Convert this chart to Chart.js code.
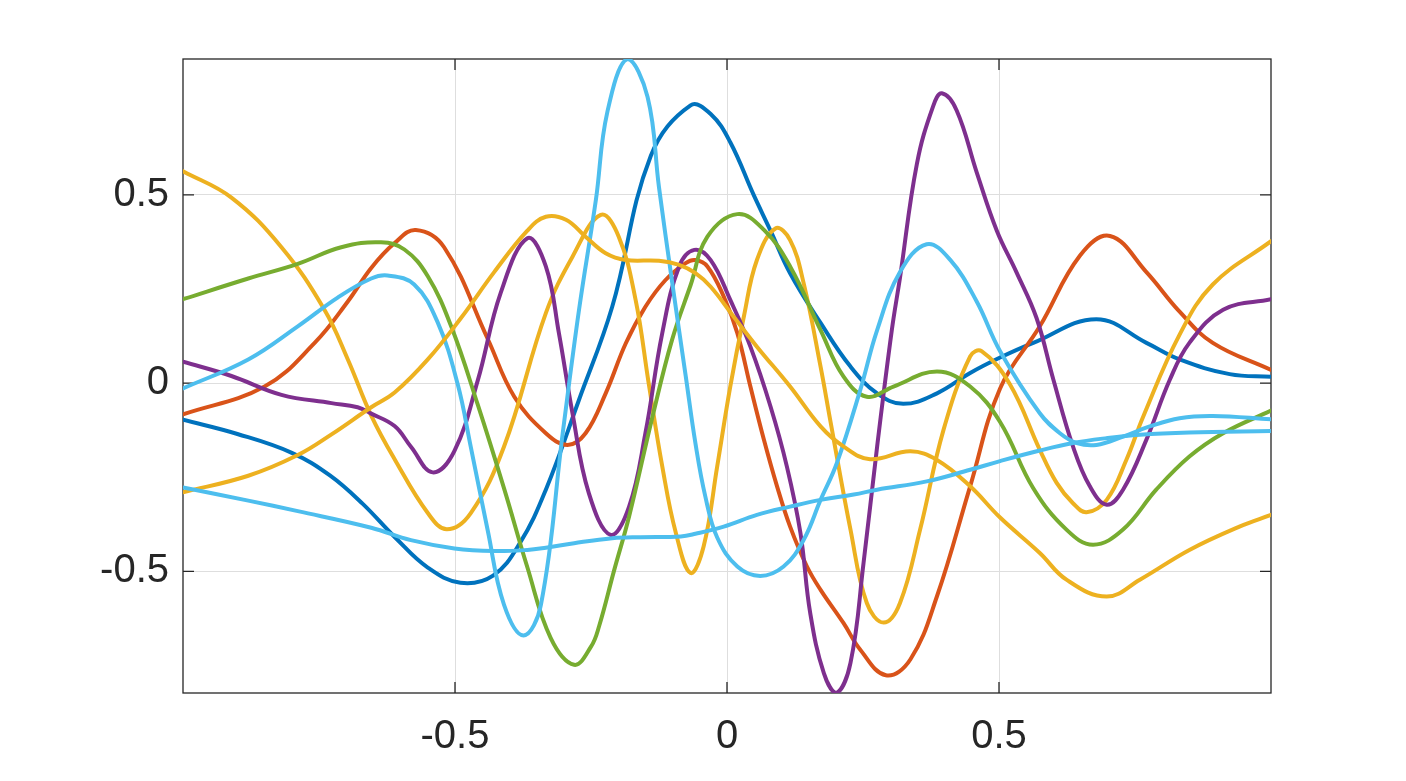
<!DOCTYPE html>
<html><head><meta charset="utf-8">
<script src="https://cdn.jsdelivr.net/npm/chart.js@4.4.1/dist/chart.umd.min.js"></script>
<style>html,body{margin:0;padding:0;background:#fff}#wrap{width:1406px;height:781px;position:relative}</style>
</head><body><div id="wrap"><canvas id="c"></canvas></div>
<script>
const xTicks = [-0.5, 0, 0.5];
const yTicks = [-0.5, 0, 0.5];

const blueX = [-1, -0.9, -0.8, -0.73, -0.67, -0.61, -0.55, -0.49, -0.43, -0.38, -0.333, -0.272, -0.211, -0.14, -0.067, -0.03, 0.006, 0.049, 0.08, 0.116, 0.172, 0.227, 0.276, 0.324, 0.386, 0.447, 0.502, 0.563, 0.679, 0.771, 0.832, 0.924, 1.0];
const blueY = [-0.097, -0.135, -0.185, -0.245, -0.32, -0.41, -0.49, -0.530, -0.511, -0.423, -0.283, -0.044, 0.203, 0.604, 0.738, 0.715, 0.64, 0.50, 0.405, 0.292, 0.16, 0.044, -0.027, -0.055, -0.027, 0.027, 0.068, 0.107, 0.170, 0.107, 0.063, 0.024, 0.017];

const orangeX = [-1, -0.85, -0.758, -0.697, -0.654, -0.611, -0.572, -0.52, -0.44, -0.391, -0.333, -0.293, -0.26, -0.223, -0.186, -0.15, -0.113, -0.076, -0.058, -0.036, -0.006, 0.019, 0.043, 0.068, 0.092, 0.116, 0.147, 0.172, 0.214, 0.245, 0.292, 0.337, 0.386, 0.447, 0.502, 0.575, 0.649, 0.704, 0.771, 0.832, 0.893, 1.0];
const orangeY = [-0.083, -0.009, 0.107, 0.217, 0.306, 0.372, 0.407, 0.361, 0.118, -0.036, -0.133, -0.164, -0.133, -0.027, 0.106, 0.203, 0.274, 0.319, 0.327, 0.31, 0.23, 0.133, -0.009, -0.151, -0.274, -0.381, -0.487, -0.549, -0.637, -0.708, -0.776, -0.734, -0.566, -0.274, -0.014, 0.151, 0.339, 0.391, 0.295, 0.190, 0.107, 0.035];

const yellowAX = [-1, -0.911, -0.819, -0.740, -0.697, -0.654, -0.611, -0.55, -0.515, -0.471, -0.410, -0.333, -0.284, -0.232, -0.199, -0.168, -0.144, -0.119, -0.094, -0.067, -0.043, -0.018, 0.006, 0.031, 0.055, 0.089, 0.116, 0.141, 0.172, 0.190, 0.227, 0.257, 0.288, 0.318, 0.355, 0.398, 0.447, 0.468, 0.520, 0.575, 0.606, 0.636, 0.661, 0.698, 0.734, 0.765, 0.832, 0.893, 1.0];
const yellowAY = [0.563, 0.493, 0.361, 0.195, 0.063, -0.086, -0.202, -0.345, -0.388, -0.345, -0.169, 0.186, 0.336, 0.447, 0.389, 0.221, 0.0, -0.221, -0.398, -0.504, -0.434, -0.221, -0.009, 0.177, 0.327, 0.411, 0.380, 0.265, 0.044, -0.10, -0.389, -0.584, -0.636, -0.584, -0.389, -0.124, 0.071, 0.085, -0.003, -0.177, -0.265, -0.319, -0.343, -0.310, -0.204, -0.089, 0.129, 0.262, 0.377];

const yellowBX = [-1, -0.88, -0.789, -0.727, -0.654, -0.611, -0.55, -0.489, -0.428, -0.367, -0.333, -0.296, -0.26, -0.223, -0.186, -0.125, -0.088, -0.058, -0.030, 0.012, 0.055, 0.116, 0.172, 0.214, 0.263, 0.337, 0.386, 0.447, 0.502, 0.575, 0.624, 0.698, 0.759, 0.850, 0.942, 1.0];
const yellowBY = [-0.290, -0.246, -0.191, -0.136, -0.064, -0.025, 0.063, 0.173, 0.295, 0.405, 0.442, 0.434, 0.389, 0.345, 0.327, 0.325, 0.314, 0.292, 0.256, 0.177, 0.097, -0.009, -0.115, -0.168, -0.202, -0.181, -0.204, -0.274, -0.357, -0.451, -0.522, -0.567, -0.522, -0.443, -0.381, -0.350];

const purpleX = [-1, -0.911, -0.819, -0.727, -0.679, -0.654, -0.611, -0.581, -0.541, -0.501, -0.458, -0.416, -0.367, -0.333, -0.309, -0.284, -0.254, -0.214, -0.180, -0.150, -0.119, -0.088, -0.060, -0.030, 0.006, 0.043, 0.080, 0.110, 0.135, 0.153, 0.178, 0.201, 0.227, 0.251, 0.276, 0.303, 0.318, 0.349, 0.379, 0.395, 0.422, 0.459, 0.496, 0.532, 0.569, 0.600, 0.636, 0.667, 0.698, 0.728, 0.771, 0.814, 0.850, 0.912, 1.0];
const purpleY = [0.057, 0.019, -0.031, -0.053, -0.064, -0.081, -0.114, -0.169, -0.237, -0.180, 0.008, 0.240, 0.385, 0.31, 0.133, -0.080, -0.292, -0.403, -0.328, -0.133, 0.133, 0.31, 0.354, 0.327, 0.221, 0.097, -0.062, -0.221, -0.398, -0.611, -0.770, -0.823, -0.743, -0.478, -0.168, 0.141, 0.28, 0.582, 0.736, 0.770, 0.725, 0.560, 0.405, 0.295, 0.173, 0.009, -0.168, -0.274, -0.323, -0.283, -0.150, 0.009, 0.107, 0.195, 0.223];

const greenX = [-1, -0.880, -0.789, -0.709, -0.636, -0.593, -0.550, -0.507, -0.458, -0.410, -0.367, -0.324, -0.281, -0.250, -0.235, -0.208, -0.180, -0.137, -0.101, -0.067, -0.036, 0.019, 0.068, 0.116, 0.172, 0.214, 0.257, 0.306, 0.386, 0.447, 0.502, 0.563, 0.624, 0.673, 0.728, 0.789, 0.850, 0.912, 1.0];
const greenY = [0.223, 0.278, 0.317, 0.361, 0.374, 0.355, 0.284, 0.151, -0.058, -0.279, -0.489, -0.677, -0.748, -0.70, -0.645, -0.50, -0.354, -0.089, 0.115, 0.26, 0.389, 0.449, 0.407, 0.310, 0.141, 0.018, -0.036, -0.009, 0.031, -0.009, -0.103, -0.279, -0.389, -0.429, -0.389, -0.283, -0.195, -0.133, -0.073];

const lightBlueAX = [-1, -0.880, -0.789, -0.715, -0.654, -0.624, -0.575, -0.532, -0.495, -0.471, -0.440, -0.410, -0.374, -0.342, -0.302, -0.272, -0.241, -0.220, -0.183, -0.146, -0.125, -0.101, -0.076, -0.058, -0.040, -0.018, 0.019, 0.061, 0.104, 0.141, 0.172, 0.202, 0.245, 0.276, 0.318, 0.367, 0.410, 0.459, 0.502, 0.575, 0.612, 0.643, 0.679, 0.728, 0.777, 0.832, 0.893, 1.0];
const lightBlueAY = [-0.014, 0.063, 0.151, 0.228, 0.278, 0.286, 0.262, 0.162, -0.003, -0.169, -0.390, -0.588, -0.670, -0.588, -0.133, 0.195, 0.487, 0.72, 0.861, 0.76, 0.52, 0.27, 0.02, -0.16, -0.30, -0.41, -0.487, -0.512, -0.487, -0.416, -0.31, -0.212, -0.018, 0.141, 0.295, 0.369, 0.328, 0.217, 0.085, -0.080, -0.133, -0.159, -0.164, -0.142, -0.115, -0.093, -0.087, -0.096];

const lightBlueBX = [-1, -0.880, -0.789, -0.654, -0.581, -0.501, -0.428, -0.367, -0.333, -0.281, -0.211, -0.159, -0.085, -0.058, -0.006, 0.055, 0.116, 0.172, 0.233, 0.276, 0.367, 0.447, 0.502, 0.575, 0.636, 0.698, 0.759, 0.850, 1.0];
const lightBlueBY = [-0.277, -0.312, -0.340, -0.384, -0.417, -0.439, -0.446, -0.443, -0.437, -0.425, -0.412, -0.409, -0.407, -0.400, -0.381, -0.350, -0.328, -0.310, -0.296, -0.283, -0.261, -0.230, -0.207, -0.179, -0.159, -0.146, -0.137, -0.131, -0.127];

const seriesList = [
  [blueX, blueY, '#0072BD'],
  [orangeX, orangeY, '#D95319'],
  [yellowAX, yellowAY, '#EDB120'],
  [purpleX, purpleY, '#7E2F8E'],
  [greenX, greenY, '#77AC30'],
  [lightBlueAX, lightBlueAY, '#4DBEEE'],
  [yellowBX, yellowBY, '#EDB120'],
  [lightBlueBX, lightBlueBY, '#4DBEEE']
];

const datasets = seriesList.map((s, i) => ({
  data: s[0].map((x, k) => ({x: x, y: s[1][k]})),
  borderColor: s[2],
  borderWidth: 4,
  pointRadius: 0,
  showLine: true,
  fill: false,
  tension: 0.4,
  borderJoinStyle: 'round',
  borderCapStyle: 'round',
  order: seriesList.length - i
}));

const axisColor = '#262626';
const boxPlugin = {
  id: 'matlabBox',
  beforeDatasetsDraw(chart) {
    const {ctx, chartArea: a, scales} = chart;
    ctx.save();
    ctx.strokeStyle = axisColor;
    ctx.lineWidth = 1.3;
    ctx.strokeRect(a.left, a.top, a.right - a.left, a.bottom - a.top);
    const len = 11;
    ctx.beginPath();
    scales.x.ticks.forEach(t => {
      const px = scales.x.getPixelForValue(t.value);
      ctx.moveTo(px, a.bottom); ctx.lineTo(px, a.bottom - len);
      ctx.moveTo(px, a.top); ctx.lineTo(px, a.top + len);
    });
    scales.y.ticks.forEach(t => {
      const py = scales.y.getPixelForValue(t.value);
      ctx.moveTo(a.left, py); ctx.lineTo(a.left + len, py);
      ctx.moveTo(a.right, py); ctx.lineTo(a.right - len, py);
    });
    ctx.stroke();
    ctx.restore();
  }
};

const tickFont = {family: "'Liberation Sans', Arial, Helvetica, sans-serif", size: 40};

new Chart(document.getElementById('c'), {
  type: 'scatter',
  data: {datasets: datasets},
  plugins: [boxPlugin],
  options: {
    responsive: true,
    maintainAspectRatio: false,
    animation: false,
    events: [],
    layout: {padding: {left: 0, right: 135, top: 59, bottom: 0}},
    plugins: {legend: {display: false}, tooltip: {enabled: false}},
    scales: {
      x: {
        type: 'linear', min: -1, max: 1,
        afterBuildTicks: ax => { ax.ticks = xTicks.map(v => ({value: v})); },
        afterFit: ax => { ax.height = 88; },
        ticks: {font: tickFont, color: axisColor, padding: 20, maxRotation: 0, autoSkip: false, callback: v => String(v)},
        grid: {color: '#dedede', lineWidth: 1, drawTicks: false},
        border: {display: false}
      },
      y: {
        type: 'linear', min: -0.823, max: 0.861,
        afterBuildTicks: ax => { ax.ticks = yTicks.map(v => ({value: v})); },
        afterFit: ax => { ax.width = 183; },
        ticks: {font: tickFont, color: axisColor, padding: 14, autoSkip: false, callback: v => String(v)},
        grid: {color: '#dedede', lineWidth: 1, drawTicks: false},
        border: {display: false}
      }
    }
  }
});
</script>
</body></html>
